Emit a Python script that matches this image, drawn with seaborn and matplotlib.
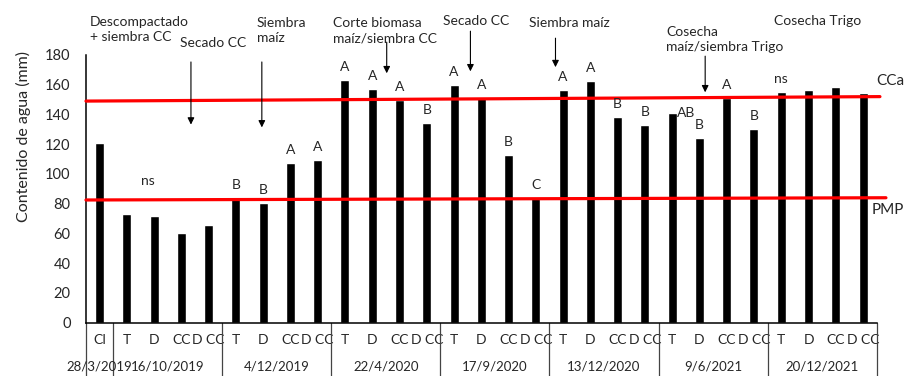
import matplotlib
matplotlib.use("Agg")
import matplotlib.pyplot as plt
import matplotlib.transforms as mtransforms
import numpy as np
import pandas as pd
import seaborn as sns

# Fechas de muestreo y tratamientos
fechas = ["28/3/2019", "16/10/2019", "4/12/2019", "22/4/2020",
          "17/9/2020", "13/12/2020", "9/6/2021", "20/12/2021"]
tratamientos_por_fecha = [
    ["CI"],
    ["T", "D", "CC", "D CC"],
    ["T", "D", "CC", "D CC"],
    ["T", "D", "CC", "D CC"],
    ["T", "D", "CC", "D CC"],
    ["T", "D", "CC", "D CC"],
    ["T", "D", "CC", "D CC"],
    ["T", "D", "CC", "D CC"],
]
# Contenido de agua (mm)
agua = [121,
        73, 72, 60, 66,
        84, 80.5, 107.5, 109.5,
        163, 157, 149.5, 134,
        159.5, 151, 113, 84,
        156.5, 162.5, 138.5, 133,
        141, 124, 151, 130,
        155, 156.5, 158.5, 154.5]
# Letras de significancia sobre cada barra
letras = ["",
          "", "", "", "",
          "B", "B", "A", "A",
          "A", "A", "A", "B",
          "A", "A", "B", "C",
          "A", "A", "B", "B",
          "AB", "B", "A", "B",
          "ns", "", "", ""]
ns_16_10 = 95          # altura del "ns" de 16/10/2019
# Capacidad de campo (CCa) y punto de marchitez permanente (PMP), extremos
cca = [149, 152]
pmp = [82.5, 84]

sns.set_style("white")
plt.rcParams["font.family"] = ["Lato", "DejaVu Sans"]

etiquetas = [t for grupo in tratamientos_por_fecha for t in grupo]
ids = [f"b{i}" for i in range(len(etiquetas))]
df = pd.DataFrame({"id": ids, "tratamiento": etiquetas, "agua": agua})

fig = plt.figure(figsize=(9.05, 3.76), dpi=100)
ax = fig.add_axes([0.095, 0.1418, 0.8737, 0.712])

sns.barplot(data=df, x="id", y="agua", order=ids, color="black",
            width=0.33, saturation=1, ax=ax)

n = len(ids)
ax.set_xlim(-0.5, n - 0.5)
ax.set_ylim(0, 180)
ax.set_yticks(np.arange(0, 181, 20))
ax.tick_params(axis="y", length=0, pad=11, labelsize=10.5)
ax.set_xticks(range(n))
ax.set_xticklabels(etiquetas, fontsize=10)
ax.tick_params(axis="x", length=0, pad=8)
ax.set_xlabel("")
ax.set_ylabel("Contenido de agua (mm)", fontsize=11.5)
ax.yaxis.set_label_coords(-0.07, 0.697)
sns.despine(ax=ax)
for s in ("left", "bottom"):
    ax.spines[s].set_color("black")
    ax.spines[s].set_linewidth(1.1)

# Separadores de fechas y etiquetas de fecha bajo el eje
trans = mtransforms.blended_transform_factory(ax.transData, ax.transAxes)
bordes = [-0.5]
pos = 0
for grupo in tratamientos_por_fecha:
    pos += len(grupo)
    bordes.append(pos - 0.5)
for b in bordes:
    ax.plot([b, b], [0, -0.2], transform=trans, color="#444444",
            lw=0.9, clip_on=False)
inicio = 0
for fecha, grupo in zip(fechas, tratamientos_por_fecha):
    centro = inicio + (len(grupo) - 1) / 2
    ax.text(centro, -0.162, fecha, transform=trans, ha="center",
            va="center", fontsize=9.5)
    inicio += len(grupo)

# Líneas de referencia
ax.plot([-0.5, 28.62], cca, color="red", lw=2.3, clip_on=False, zorder=3)
ax.plot([-0.5, 28.84], pmp, color="red", lw=2.3, clip_on=False, zorder=3)
ax.text(28.99, 162.3, "CCa", ha="center", va="center", fontsize=11)
ax.text(28.9, 76, "PMP", ha="center", va="center", fontsize=11)

# Letras de significancia
fl = 10
for i, (v, l) in enumerate(zip(agua, letras)):
    if not l:
        continue
    if l == "AB":
        ax.annotate(l, (i, v), xytext=(14, 0), textcoords="offset pixels",
                    ha="center", va="center", fontsize=fl)
    else:
        ax.annotate(l, (i, v), xytext=(0, 13), textcoords="offset pixels",
                    ha="center", va="center", fontsize=fl)
ax.text(1.77, ns_16_10, "ns", ha="center", va="center", fontsize=fl)

# Manejos con flechas
fs = 10
flecha = dict(arrowstyle="-|>", color="black", lw=0.8,
              mutation_scale=10, shrinkA=0, shrinkB=0)
ax.text(-0.35, 197.4, "Descompactado\n+ siembra CC", ha="left", va="center",
        fontsize=fs, linespacing=1.3)
ax.text(4.17, 188, "Secado CC", ha="center", va="center", fontsize=fs)
ax.annotate("", xy=(3.35, 133.2), xytext=(3.35, 175.3), arrowprops=flecha)
ax.text(5.76, 196.4, "Siembra\nmaíz", ha="left", va="center", fontsize=fs,
        linespacing=1.3)
ax.annotate("", xy=(5.95, 131.3), xytext=(5.95, 175.3), arrowprops=flecha)
ax.text(8.55, 196.4, "Corte biomasa\nmaíz/siembra CC", ha="left",
        va="center", fontsize=fs, linespacing=1.3)
ax.annotate("", xy=(10.53, 167.7), xytext=(10.53, 188.6), arrowprops=flecha)
ax.text(12.58, 202.7, "Secado CC", ha="left", va="center", fontsize=fs)
ax.annotate("", xy=(13.6, 169), xytext=(13.6, 196), arrowprops=flecha)
ax.text(17.23, 201.3, "Siembra maíz", ha="center", va="center", fontsize=fs)
ax.annotate("", xy=(16.72, 171.8), xytext=(16.72, 191.3), arrowprops=flecha)
ax.text(20.78, 190.7, "Cosecha\nmaíz/siembra Trigo", ha="left",
        va="center", fontsize=fs, linespacing=1.3)
ax.annotate("", xy=(22.21, 154.9), xytext=(22.21, 179.2), arrowprops=flecha)
ax.text(26.35, 202.7, "Cosecha Trigo", ha="center", va="center",
        fontsize=fs)

fig.savefig("out.png", dpi=100)
